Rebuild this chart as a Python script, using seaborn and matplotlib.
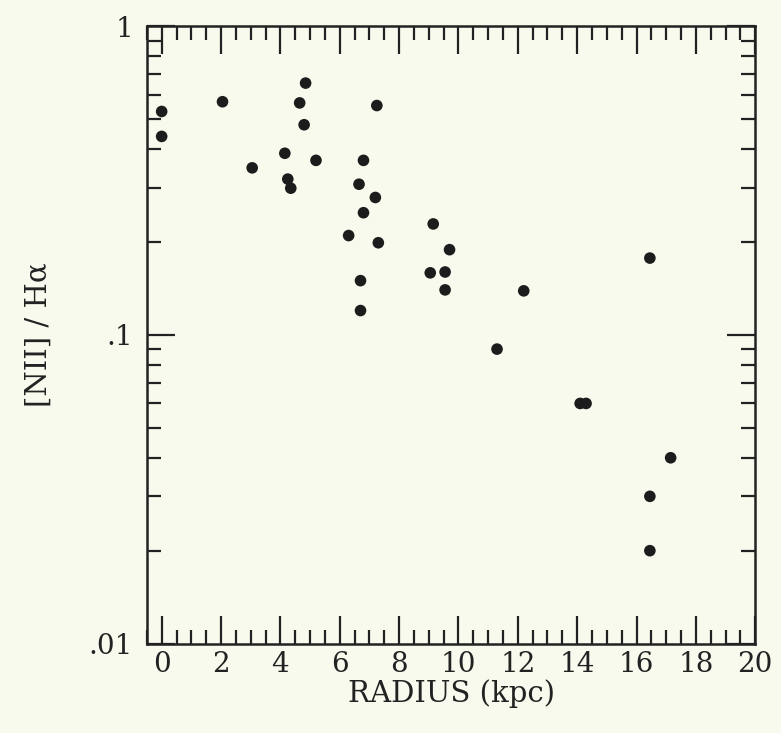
import numpy as np
import pandas as pd
import matplotlib
matplotlib.use("Agg")
import matplotlib.pyplot as plt
import seaborn as sns
from matplotlib.ticker import MultipleLocator, LogLocator, FixedLocator, FixedFormatter, NullFormatter

# radius (kpc) and [NII]/Halpha ratio
radius = [0.0, 0.0, 2.05, 4.85, 4.65, 4.8, 4.15, 5.2, 3.05, 4.25, 4.35,
          7.25, 6.8, 6.65, 7.2, 6.8, 6.3, 7.3, 6.7, 6.7,
          9.15, 9.7, 9.05, 9.55, 9.55, 12.2, 11.3, 14.1, 14.3,
          16.45, 17.15, 16.45, 16.45]
ratio = [0.53, 0.44, 0.57, 0.655, 0.565, 0.48, 0.388, 0.368, 0.348, 0.32, 0.299,
         0.554, 0.368, 0.308, 0.279, 0.249, 0.21, 0.199, 0.15, 0.12,
         0.229, 0.189, 0.159, 0.16, 0.14, 0.139, 0.090, 0.060, 0.060,
         0.1775, 0.040, 0.030, 0.020]

df = pd.DataFrame({"radius": radius, "ratio": ratio})

sns.set_style("ticks")
plt.rcParams["font.family"] = ["DejaVu Serif"]
bg = "#f9faee"

fig = plt.figure(figsize=(7.81, 7.33), dpi=100, facecolor=bg)
ax = fig.add_axes([0.188, 0.122, 0.779, 0.842])
ax.set_facecolor(bg)

sns.scatterplot(data=df, x="radius", y="ratio", ax=ax, color="#1c1c1c",
                s=70, edgecolor="none", legend=False)

ax.set_yscale("log")
ax.set_ylim(0.01, 1)
ax.set_xlim(-0.5, 20)

ax.xaxis.set_major_locator(MultipleLocator(2))
ax.xaxis.set_minor_locator(MultipleLocator(0.5))
ax.yaxis.set_major_locator(FixedLocator([0.01, 0.1, 1]))
ax.yaxis.set_major_formatter(FixedFormatter([".01", ".1", "1"]))
ax.yaxis.set_minor_locator(LogLocator(base=10, subs=np.arange(2, 10)))
ax.yaxis.set_minor_formatter(NullFormatter())

ax.tick_params(which="both", direction="in", top=True, right=True,
               color="#222222", width=1.6, labelsize=20, labelcolor="#222222")
ax.tick_params(which="major", length=20)
ax.tick_params(which="minor", length=10)
ax.tick_params(axis="x", which="major", pad=5)
ax.tick_params(axis="y", which="major", pad=10)
for sp in ax.spines.values():
    sp.set_linewidth(1.8)
    sp.set_color("#222222")

ax.set_xlabel("RADIUS (kpc)", fontsize=21, color="#222222", labelpad=1)
ax.set_ylabel("[NII] / Hα", fontsize=21, color="#222222", labelpad=26)

fig.savefig("out.png", dpi=100, facecolor=bg)
